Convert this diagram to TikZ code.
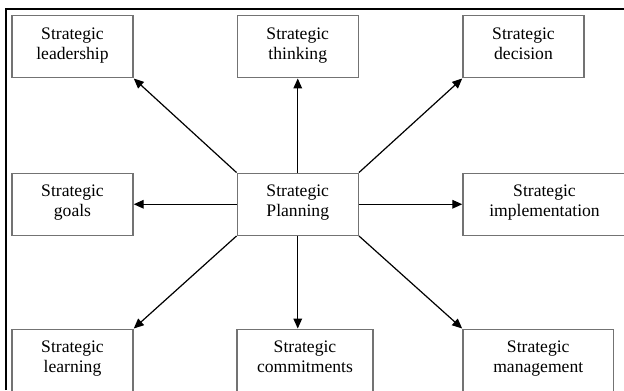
\documentclass[tikz,border=0pt]{standalone}
\usepackage{fontspec}
\setmainfont{Liberation Serif}
\usetikzlibrary{arrows.meta}
\begin{document}
\begin{tikzpicture}[x=0.75pt,y=-0.75pt,
    box/.style={draw=black!55,line width=1.1pt,align=center,inner sep=0pt,
      minimum width=90.75pt,text height=32.5pt,text depth=14pt,
      font=\fontsize{13.2}{15}\selectfont},
    link/.style={line width=0.9pt,-{Triangle[length=7.5pt,width=6.5pt]}}]
      \clip (0,0) rectangle (624,390);
      \draw[line width=0.8pt] (6,390) -- (6,9) -- (624,9);
      \node[box] (lead) at (72.5, 46.75) {Strategic\\leadership};
      \node[box] (think) at (297.75, 46.75) {Strategic\\thinking};
      \node[box] (decide) at (523.5, 46.75) {Strategic\\decision};
      \node[box] (goals) at (72.5, 204.25) {Strategic\\goals};
      \node[box] (plan) at (297.75, 204.25) {Strategic\\Planning};
      \node[box,minimum width=122.25pt] (impl) at (544.5, 204.25) {Strategic\\implementation};
      \node[box] (learn) at (72.5, 360.25) {Strategic\\learning};
      \node[box,minimum width=102pt] (commit) at (305, 360.25) {Strategic\\commitments};
      \node[box,minimum width=113pt] (manage) at (538.25, 360.25) {Strategic\\management};
      \draw[link] (plan.north west) -- (lead.south east);
      \draw[link] (plan.north) -- (think.south);
      \draw[link] (plan.north east) -- (decide.south west);
      \draw[link] (plan.west) -- (goals.east);
      \draw[link] (plan.east) -- (impl.west);
      \draw[link] (plan.south west) -- (learn.north east);
      \draw[link] (plan.south) -- (plan.south |- commit.north);
      \draw[link] (plan.south east) -- (manage.north west);
    \end{tikzpicture}
\end{document}
